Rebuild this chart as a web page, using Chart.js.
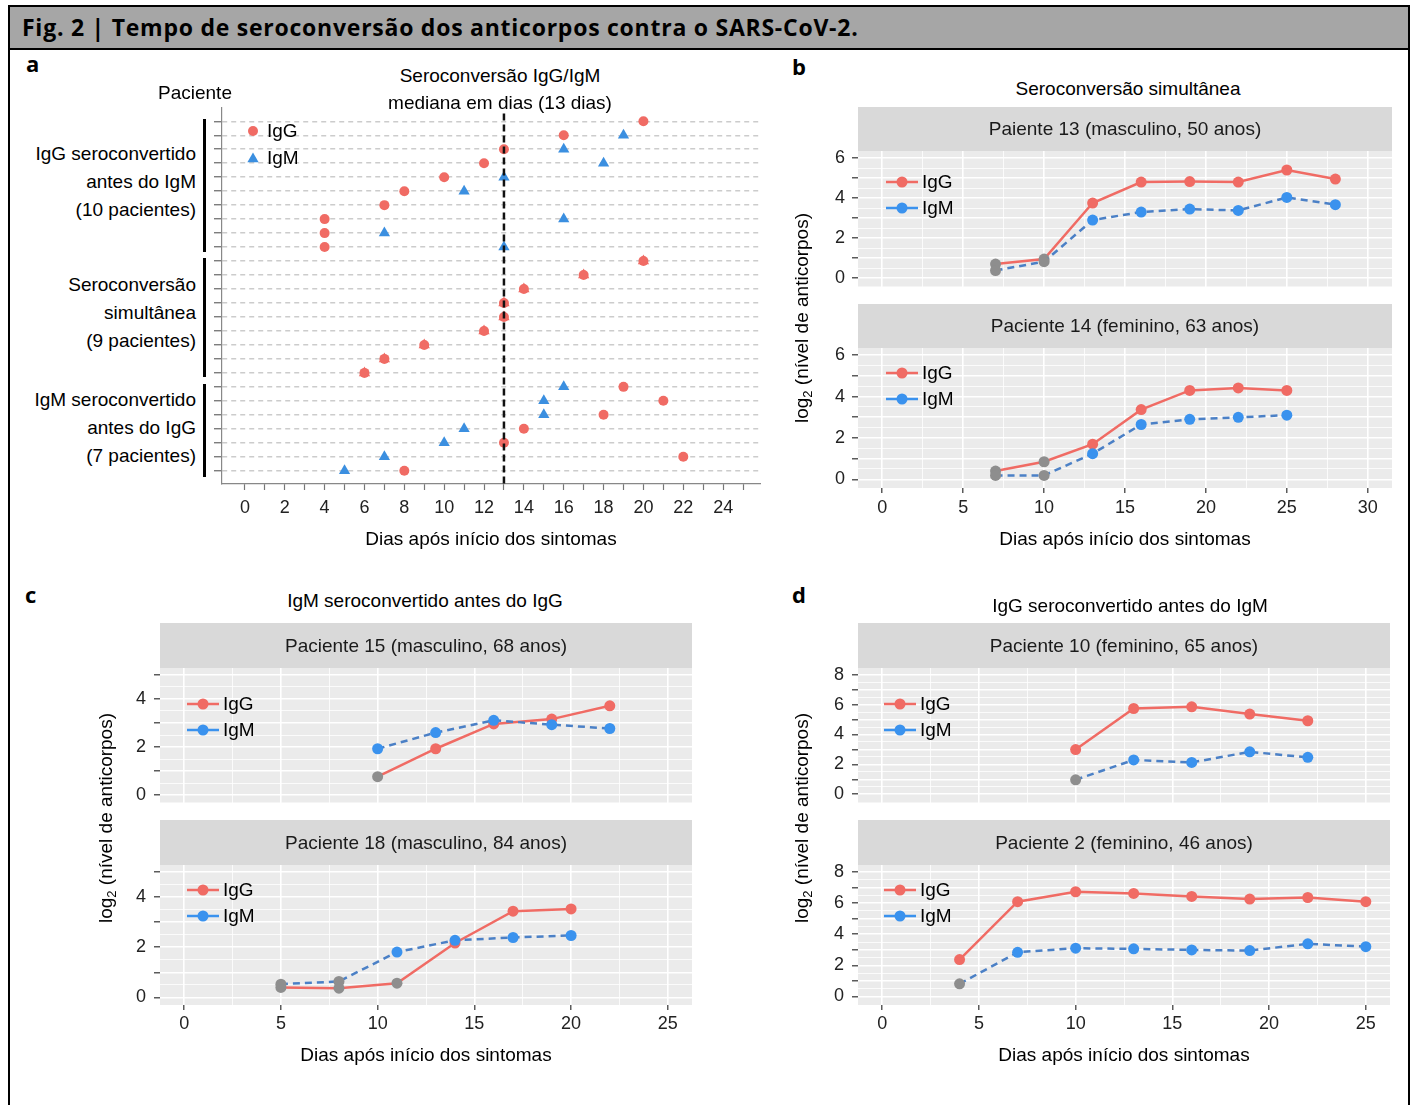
<!DOCTYPE html>
<html>
<head>
<meta charset="utf-8">
<script src="https://cdn.jsdelivr.net/npm/chart.js@4.4.1/dist/chart.umd.min.js"></script>
<style>
  body { margin: 0; background: #fff; }
  #fig { position: relative; width: 1415px; height: 1105px; overflow: hidden;
         font-family: "Liberation Sans", Arial, sans-serif; color: #000; }
  #fig canvas { position: absolute; }
  .t { position: absolute; white-space: nowrap; line-height: 1; }
  .bar { position: absolute; background: #000; width: 3px; }
  #frame { position: absolute; left: 8px; top: 5px; width: 1402px; height: 1102px;
           border: 2px solid #000; box-sizing: border-box; }
  #head { position: absolute; left: 8px; top: 5px; width: 1402px; height: 45px;
          background: #a6a6a6; border: 2px solid #000; box-sizing: border-box; }
  sub { font-size: 13px; vertical-align: -4px; }
</style>
</head>
<body>
<div id="fig">
  <div id="frame"></div>
  <div id="head"></div>
  <canvas id="cA" width="580" height="460" style="left:200px;top:100px"></canvas>
  <canvas id="cB1" width="620" height="192" style="left:780px;top:100px"></canvas>
  <canvas id="cB2" width="620" height="265" style="left:780px;top:300px"></canvas>
  <canvas id="cC1" width="620" height="193" style="left:80px;top:615px"></canvas>
  <canvas id="cC2" width="620" height="268" style="left:80px;top:812px"></canvas>
  <canvas id="cD1" width="620" height="193" style="left:778px;top:615px"></canvas>
  <canvas id="cD2" width="620" height="268" style="left:778px;top:812px"></canvas>
</div>
<script>
// painel a: dia de soroconversão por paciente (linha 1 = topo)
const patientRow = [1, 2, 3, 4, 5, 6, 7, 8, 9, 10, 11, 12, 13, 14, 15, 16, 17, 18, 19, 20, 21, 22, 23, 24, 25, 26];
const iggDay = [20, 16, 13, 12, 10, 8, 7, 4, 4, 4, 20, 17, 14, 13, 13, 12, 9, 7, 6, 19, 21, 18, 14, 13, 22, 8];
const igmDay = [null, 19, 16, 18, 13, 11, null, 16, 7, 13, 20, 17, 14, 13, 13, 12, 9, 7, 6, 16, 15, 15, 11, 10, 7, 5];
const medianDay = 13;
const dayTicksA = [0, 2, 4, 6, 8, 10, 12, 14, 16, 18, 20, 22, 24];

// painel b
const p13Days = [7, 10, 13, 16, 19, 22, 25, 28];
const p13IgG = [0.7, 0.95, 3.75, 4.8, 4.82, 4.8, 5.4, 4.95];
const p13IgM = [0.38, 0.82, 2.9, 3.3, 3.45, 3.38, 4.03, 3.67];
const p14Days = [7, 10, 13, 16, 19, 22, 25];
const p14IgG = [0.4, 0.85, 1.7, 3.37, 4.3, 4.42, 4.3];
const p14IgM = [0.19, 0.19, 1.24, 2.65, 2.9, 3.0, 3.1];
// painel c
const p15Days = [10, 13, 16, 19, 22];
const p15IgG = [0.77, 1.93, 2.96, 3.16, 3.71];
const p15IgM = [1.93, 2.6, 3.11, 2.93, 2.77];
const p18Days = [5, 8, 11, 14, 17, 20];
const p18IgG = [0.4, 0.37, 0.57, 2.17, 3.44, 3.53];
const p18IgM = [0.53, 0.64, 1.81, 2.28, 2.39, 2.47];
// painel d
const p10Days = [10, 13, 16, 19, 22];
const p10IgG = [2.99, 5.74, 5.85, 5.37, 4.92];
const p10IgM = [0.97, 2.3, 2.13, 2.84, 2.47];
const p2Days = [4, 7, 10, 13, 16, 19, 22, 25];
const p2IgG = [2.37, 6.09, 6.73, 6.62, 6.43, 6.26, 6.36, 6.09];
const p2IgM = [0.81, 2.84, 3.1, 3.06, 2.99, 2.95, 3.38, 3.2];

const RED = '#f06b64';
const BLUE_PT = '#3a92ee';
const BLUE_LINE = '#4b80c6';
const GRAY = '#8e8e8e';
const TRI_BLUE = '#3b8fe0';
const XTITLE = 'Dias após início dos sintomas';

Chart.defaults.font.family = '"Liberation Sans", Arial, sans-serif';
Chart.defaults.font.size = 18;
Chart.defaults.color = '#222';

// posições das linhas de grade (não são dados)
function gridSteps(lo, hi, step) {
  const out = [];
  for (let k = 0; lo + k * step <= hi + 1e-9; k++) out.push(Math.round((lo + k * step) * 100) / 100);
  return out;
}
const setTicks = vals => s => { s.ticks = vals.map(v => ({value: v})); };

const fig = document.getElementById('fig');
function put(html, x, y, o = {}) {
  const d = document.createElement('div');
  d.className = 't';
  d.innerHTML = html;
  d.style.left = x + 'px';
  d.style.top = y + 'px';
  d.style.fontSize = (o.size || 19) + 'px';
  if (o.font) d.style.fontFamily = o.font;
  if (o.bold) d.style.fontWeight = 'bold';
  if (o.ls) d.style.letterSpacing = o.ls + 'px';
  const ax = o.align === 'right' ? '-100%' : o.align === 'left' ? '0' : '-50%';
  d.style.transform = 'translate(' + ax + ',-50%)' + (o.rot ? ' rotate(-90deg)' : '');
  fig.appendChild(d);
}
function bar(x, y1, y2) {
  const d = document.createElement('div');
  d.className = 'bar';
  d.style.left = x + 'px'; d.style.top = y1 + 'px'; d.style.height = (y2 - y1) + 'px';
  fig.appendChild(d);
}

// textos fixos
const OPEN = '"Open Sans", sans-serif';
put('Fig. 2 | Tempo de seroconversão dos anticorpos contra o SARS-CoV-2.', 22, 27, {bold: true, size: 23, ls: 0.75, align: 'left', font: OPEN});
put('a', 26, 63, {bold: true, size: 22, align: 'left', font: OPEN});
put('b', 792, 66, {bold: true, size: 22, align: 'left', font: OPEN});
put('c', 25, 594, {bold: true, size: 22, align: 'left', font: OPEN});
put('d', 792, 594, {bold: true, size: 22, align: 'left', font: OPEN});

put('Paciente', 195, 92);
put('Seroconversão IgG/IgM', 500, 75);
put('mediana em dias (13 dias)', 500, 102);
put('IgG seroconvertido', 196, 153, {align: 'right'});
put('antes do IgM', 196, 181, {align: 'right'});
put('(10 pacientes)', 196, 209, {align: 'right'});
put('Seroconversão', 196, 284, {align: 'right'});
put('simultânea', 196, 312, {align: 'right'});
put('(9 pacientes)', 196, 340, {align: 'right'});
put('IgM seroconvertido', 196, 399, {align: 'right'});
put('antes do IgG', 196, 427, {align: 'right'});
put('(7 pacientes)', 196, 455, {align: 'right'});
bar(203, 119, 252);
bar(203, 258, 377);
bar(203, 384, 477);

put('Seroconversão simultânea', 1128, 88);
put('IgM seroconvertido antes do IgG', 425, 600);
put('IgG seroconvertido antes do IgM', 1130, 605);
const ylab = 'log<sub>2</sub> (nível de anticorpos)';
put(ylab, 803, 318, {rot: true});
put(ylab, 107, 818, {rot: true});
put(ylab, 803, 818, {rot: true});

function tri(ctx, x, y, r) {
  ctx.beginPath();
  for (let k = 0; k < 3; k++) {
    const ang = -Math.PI / 2 + k * 2 * Math.PI / 3;
    ctx.lineTo(x + r * Math.cos(ang), y + r * Math.sin(ang));
  }
  ctx.closePath();
  ctx.fill();
}

// fundo cinza, faixa do título e legenda
const decor = {
  id: 'decor',
  beforeDraw(chart, args, o) {
    if (!o.panelBg) return;
    const {ctx, chartArea: a} = chart;
    ctx.save();
    ctx.fillStyle = o.panelBg;
    ctx.fillRect(a.left, a.top, a.right - a.left, a.bottom - a.top);
    ctx.restore();
  },
  afterDraw(chart, args, o) {
    const {ctx, chartArea: a} = chart;
    ctx.save();
    if (o.strip) {
      ctx.fillStyle = '#d9d9d9';
      ctx.fillRect(a.left, a.top - o.stripH, a.right - a.left, o.stripH);
      ctx.fillStyle = '#1a1a1a';
      ctx.font = '19px "Liberation Sans", Arial, sans-serif';
      ctx.textAlign = 'center';
      ctx.textBaseline = 'middle';
      ctx.fillText(o.strip, (a.left + a.right) / 2, a.top - o.stripH / 2 + 1);
    }
    ctx.font = '19px "Liberation Sans", Arial, sans-serif';
    ctx.textAlign = 'left';
    ctx.textBaseline = 'middle';
    (o.legend || []).forEach((it, i) => {
      const x = a.left + o.legendX;
      const y = a.top + o.legendY + i * o.legendGap;
      let tx = x + 14;
      ctx.fillStyle = it.color;
      if (it.kind === 'line') {
        ctx.strokeStyle = it.color;
        ctx.lineWidth = 2.5;
        ctx.beginPath(); ctx.moveTo(x, y); ctx.lineTo(x + 32, y); ctx.stroke();
        ctx.beginPath(); ctx.arc(x + 16, y, 5.5, 0, Math.PI * 2); ctx.fill();
        tx = x + 36;
      } else if (it.kind === 'circle') {
        ctx.beginPath(); ctx.arc(x, y, 5, 0, Math.PI * 2); ctx.fill();
      } else {
        tri(ctx, x, y + 1, 6.5);
      }
      ctx.fillStyle = '#000';
      ctx.fillText(it.label, tx, y + 1);
    });
    ctx.restore();
  }
};

// painel a
const igmPts = [], igmCol = [], iggPts = [];
patientRow.forEach((r, i) => {
  iggPts.push({x: iggDay[i], y: r});
  if (igmDay[i] !== null) {
    igmPts.push({x: igmDay[i], y: r});
    igmCol.push(igmDay[i] === iggDay[i] ? RED : TRI_BLUE);
  }
});

new Chart(document.getElementById('cA'), {
  type: 'scatter',
  data: {
    datasets: [
      {type: 'line', label: 'mediana', data: [{x: medianDay, y: 0.45}, {x: medianDay, y: 26.95}],
       borderColor: '#111', borderWidth: 2.5, borderDash: [7, 4], pointRadius: 0},
      {label: 'IgM', data: igmPts, pointStyle: 'triangle', pointRadius: 6.5, pointBorderWidth: 0,
       pointBackgroundColor: igmCol, pointBorderColor: 'rgba(0,0,0,0)'},
      {label: 'IgG', data: iggPts, pointStyle: 'circle', pointRadius: 5, pointBorderWidth: 0,
       pointBackgroundColor: RED, pointBorderColor: 'rgba(0,0,0,0)'}
    ]
  },
  options: {
    responsive: false, animation: false, devicePixelRatio: 1,
    layout: {padding: {top: 8, right: 20, bottom: 0, left: 0}},
    plugins: {
      legend: {display: false}, tooltip: {enabled: false},
      decor: {legendX: 31, legendY: 23, legendGap: 27,
              legend: [{kind: 'circle', color: RED, label: 'IgG'}, {kind: 'triangle', color: TRI_BLUE, label: 'IgM'}]}
    },
    scales: {
      x: {
        type: 'linear', min: -1.15, max: 25.85,
        afterFit: s => { s.height = 76; s.paddingLeft = 0; s.paddingRight = 0; },
        afterBuildTicks: setTicks(gridSteps(0, 25, 1)),
        ticks: {autoSkip: false, maxRotation: 0, padding: 7, color: '#222',
                callback: v => (dayTicksA.includes(v) ? String(v) : '')},
        grid: {drawOnChartArea: false, tickLength: 6, tickColor: '#777', tickWidth: 1.2},
        border: {display: true, color: '#888', width: 1.2},
        title: {display: true, text: XTITLE, color: '#000', font: {size: 19}, padding: {top: 0, bottom: 8.6}}
      },
      y: {
        type: 'linear', min: 0.05, max: 26.95, reverse: true,
        afterFit: s => { s.width = 22; s.paddingTop = 0; s.paddingBottom = 0; },
        afterBuildTicks: setTicks(patientRow),
        ticks: {display: false, autoSkip: false},
        grid: {color: '#cccccc', lineWidth: 1.5, tickLength: 8, tickColor: '#666', tickWidth: 1.2, tickBorderDash: []},
        border: {display: true, color: '#888', width: 1.2, dash: [5, 4]}
      }
    }
  },
  plugins: [decor]
});

// facetas b, c, d
function facet(id, f) {
  const cols = (n, neg, c) => Array.from({length: n}, (_, i) => (i < neg ? GRAY : c));
  const n = f.days.length;
  return new Chart(document.getElementById(id), {
    type: 'line',
    data: {
      datasets: [
        {label: 'IgM', data: f.days.map((d, i) => ({x: d, y: f.igm[i]})), borderColor: BLUE_LINE,
         borderWidth: 2.5, borderDash: [7, 5], tension: 0, pointRadius: 5.5, pointBorderWidth: 0,
         pointBackgroundColor: cols(n, f.igmNeg, BLUE_PT), pointBorderColor: 'rgba(0,0,0,0)'},
        {label: 'IgG', data: f.days.map((d, i) => ({x: d, y: f.igg[i]})), borderColor: RED,
         borderWidth: 2.5, tension: 0, pointRadius: 5.5, pointBorderWidth: 0,
         pointBackgroundColor: cols(n, f.iggNeg, RED), pointBorderColor: 'rgba(0,0,0,0)'}
      ]
    },
    options: {
      responsive: false, animation: false, devicePixelRatio: 1,
      layout: {padding: {top: f.padTop, right: 8, bottom: 0, left: 0}},
      plugins: {
        legend: {display: false}, tooltip: {enabled: false},
        decor: {panelBg: '#ebebeb', strip: f.strip, stripH: f.stripH,
                legendX: f.legX, legendY: f.legY, legendGap: 26,
                legend: [{kind: 'line', color: RED, label: 'IgG'}, {kind: 'line', color: BLUE_PT, label: 'IgM'}]}
      },
      scales: {
        x: {
          type: 'linear', min: f.xMin, max: f.xMax,
          afterFit: s => { s.height = f.xHeight; s.paddingLeft = 0; s.paddingRight = 0; },
          afterBuildTicks: setTicks(gridSteps(0, f.xTop, 2.5)),
          ticks: {display: f.showX, autoSkip: false, maxRotation: 0,
                  padding: f.xPad, color: '#222', callback: v => (v % 5 === 0 ? String(v) : '')},
          grid: {color: '#ffffff', lineWidth: c => (c.tick && c.tick.value % 5 === 0 ? 1.6 : 0.8),
                 drawTicks: f.showX, tickLength: 5, tickWidth: 1.2,
                 tickColor: c => (c.tick && c.tick.value % 5 === 0 ? '#333' : 'rgba(0,0,0,0)')},
          border: {display: false},
          title: {display: f.showX, text: XTITLE, color: '#000', font: {size: 19}, padding: {top: 0, bottom: f.titlePad}}
        },
        y: {
          type: 'linear', min: f.yMin, max: f.yMax,
          afterFit: s => { s.width = f.yWidth; s.paddingTop = 0; s.paddingBottom = 0; },
          afterBuildTicks: setTicks(gridSteps(0, f.yTop, 0.5)),
          ticks: {autoSkip: false, padding: f.yPad, color: '#222',
                  callback: v => (v % 2 === 0 ? String(v) : '')},
          grid: {color: '#ffffff', lineWidth: c => (c.tick && Number.isInteger(c.tick.value) ? 1.6 : 0.8),
                 tickLength: 6, tickWidth: 1.2,
                 tickColor: c => (c.tick && Number.isInteger(c.tick.value) ? '#333' : 'rgba(0,0,0,0)')},
          border: {display: false}
        }
      }
    },
    plugins: [decor]
  });
}

const bAxes = {xMin: -1.5, xMax: 31.5, xTop: 30, yMin: -0.42, yMax: 6.35, yTop: 6, yWidth: 78, yPad: 7, stripH: 44, legX: 28};
facet('cB1', Object.assign({}, bAxes, {days: p13Days, igg: p13IgG, igm: p13IgM, iggNeg: 2, igmNeg: 2,
  strip: 'Paiente 13 (masculino, 50 anos)', padTop: 51, showX: false, xHeight: 0, legY: 31}));
facet('cB2', Object.assign({}, bAxes, {days: p14Days, igg: p14IgG, igm: p14IgM, iggNeg: 2, igmNeg: 2,
  strip: 'Paciente 14 (feminino, 63 anos)', padTop: 48, showX: true, xHeight: 77, xPad: 4, titlePad: 13.6, legY: 25}));

const cAxes = {xMin: -1.25, xMax: 26.25, xTop: 25, yMin: -0.3, yMax: 5.28, yTop: 5, yWidth: 80, yPad: 8, stripH: 45, legX: 27};
facet('cC1', Object.assign({}, cAxes, {days: p15Days, igg: p15IgG, igm: p15IgM, iggNeg: 1, igmNeg: 0,
  strip: 'Paciente 15 (masculino, 68 anos)', padTop: 53, showX: false, xHeight: 0, legY: 36}));
facet('cC2', Object.assign({}, cAxes, {days: p18Days, igg: p18IgG, igm: p18IgM, iggNeg: 3, igmNeg: 2,
  strip: 'Paciente 18 (masculino, 84 anos)', padTop: 53, showX: true, xHeight: 75, xPad: 3, titlePad: 12.6, legY: 25}));

const dAxes = {xMin: -1.25, xMax: 26.25, xTop: 25, yMin: -0.55, yMax: 8.45, yTop: 8, yWidth: 80, yPad: 8, stripH: 45, legX: 26};
facet('cD1', Object.assign({}, dAxes, {days: p10Days, igg: p10IgG, igm: p10IgM, iggNeg: 0, igmNeg: 1,
  strip: 'Paciente 10 (feminino, 65 anos)', padTop: 53, showX: false, xHeight: 0, legY: 36}));
facet('cD2', Object.assign({}, dAxes, {days: p2Days, igg: p2IgG, igm: p2IgM, iggNeg: 0, igmNeg: 1,
  strip: 'Paciente 2 (feminino, 46 anos)', padTop: 53, showX: true, xHeight: 75, xPad: 3, titlePad: 12.6, legY: 25}));
</script>
</body>
</html>
